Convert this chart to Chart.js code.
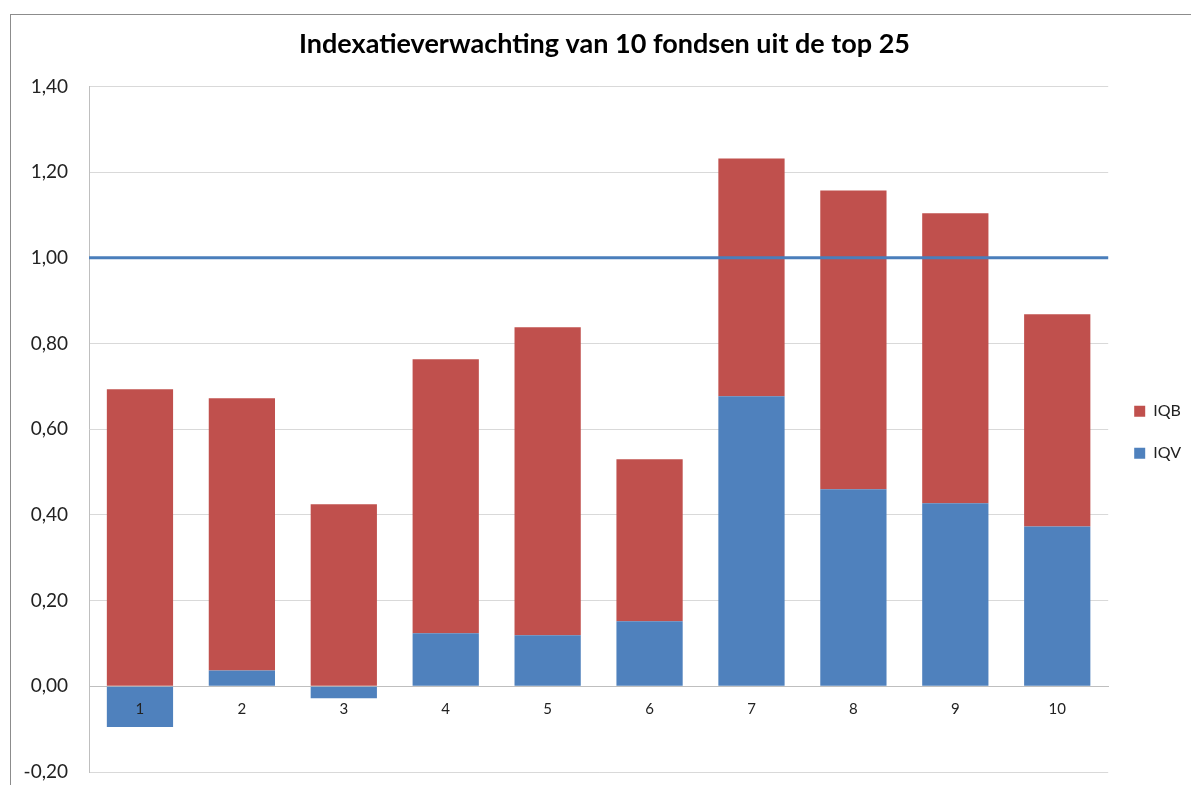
<!DOCTYPE html>
<html>

<head>
  <meta charset="utf-8">
  <title>Indexatieverwachting</title>
  <script src="https://cdn.jsdelivr.net/npm/chart.js@4.4.0/dist/chart.umd.min.js"></script>
  <style>
    body { margin: 0; background: #fff; }
    #frame { position: absolute; left: 10px; top: 14px; width: 1300px; height: 900px; border: 1px solid #8c8c8c; box-sizing: border-box; }
    #chartDiv { position: absolute; left: 0; top: 0; width: 1191px; height: 785px; }
  </style>
</head>

<body>
  <div id="frame"></div>
  <div id="chartDiv">
    <canvas id="myChart" width="1191" height="785"></canvas>
  </div>

  <script>
    // values
    const funds = ['1', '2', '3', '4', '5', '6', '7', '8', '9', '10'];
    const iqv = [-0.095, 0.037, -0.028, 0.124, 0.119, 0.152, 0.677, 0.460, 0.427, 0.373];
    const iqb = [0.693, 0.635, 0.425, 0.639, 0.719, 0.378, 0.555, 0.697, 0.677, 0.495];
    const targetLevel = 1.0;
    const yTicks = [-0.2, 0, 0.2, 0.4, 0.6, 0.8, 1.0, 1.2, 1.4];

    const fontName = 'Lato, "Open Sans", sans-serif';

    // horizontal line at 1,00 over the bars
    const targetLine = {
      id: 'targetLine',
      afterDatasetsDraw(chart) {
        const ctx = chart.ctx;
        const area = chart.chartArea;
        const y = chart.scales.y.getPixelForValue(targetLevel);
        ctx.save();
        ctx.strokeStyle = '#4a7ebb';
        ctx.lineWidth = 3;
        ctx.beginPath();
        ctx.moveTo(area.left, y);
        ctx.lineTo(area.right, y);
        ctx.stroke();
        ctx.restore();
      }
    };

    const ctx = document.getElementById('myChart').getContext('2d');
    const myChart = new Chart(ctx, {
      type: 'bar',
      data: {
        labels: funds,
        datasets: [{
          label: 'IQV',
          data: iqv,
          backgroundColor: '#4f81bd',
          borderWidth: 0
        }, {
          label: 'IQB',
          data: iqb,
          backgroundColor: '#c0504d',
          borderWidth: 0
        }]
      },
      options: {
        responsive: false,
        animation: false,
        layout: { padding: { left: 18, right: 0, top: 0, bottom: 13 } },
        datasets: { bar: { categoryPercentage: 1.0, barPercentage: 0.65 } },
        plugins: {
          title: {
            display: true,
            text: 'Indexatieverwachting van 10 fondsen uit de top 25',
            color: '#000',
            font: { family: fontName, size: 27, weight: 'bold' },
            padding: { top: 28, bottom: 26 }
          },
          legend: {
            position: 'right',
            reverse: true,
            // empty title only used to push the items down a bit
            title: { display: true, text: ' ', font: { size: 12 }, padding: 39 },
            labels: {
              boxWidth: 11,
              boxHeight: 11,
              padding: 26,
              color: '#222',
              font: { family: fontName, size: 16 }
            }
          },
          tooltip: { enabled: false }
        },
        scales: {
          x: {
            stacked: true,
            position: { y: 0 },
            afterFit(scale) { scale.height = 0; },
            grid: { display: false, drawTicks: false },
            border: { color: '#bfbfbf' },
            ticks: { z: 1, color: '#222', padding: 14, font: { family: fontName, size: 15 } }
          },
          y: {
            stacked: true,
            min: -0.2,
            max: 1.4,
            afterFit(scale) {
              scale.width = 71;
              scale.paddingTop = 12;
              scale.paddingBottom = 12;
            },
            afterBuildTicks(scale) { scale.ticks = yTicks.map(v => ({ value: v })); },
            grid: { color: '#d9d9d9', drawTicks: false },
            border: { color: '#bfbfbf' },
            ticks: {
              color: '#222',
              padding: 21,
              font: { family: fontName, size: 19 },
              callback: v => v.toFixed(2).replace('.', ',')
            }
          }
        }
      },
      plugins: [targetLine]
    });
  </script>
</body>

</html>
